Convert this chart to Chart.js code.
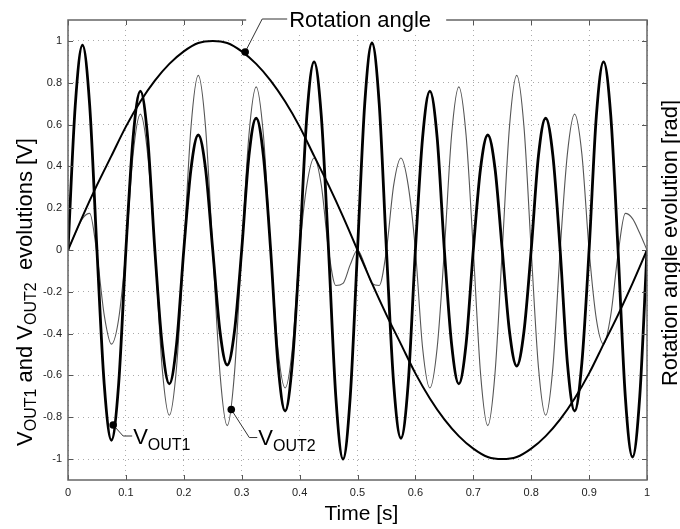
<!DOCTYPE html>
<html>
<head>
<meta charset="utf-8">
<script src="https://cdn.jsdelivr.net/npm/chart.js@4.4.0/dist/chart.umd.min.js"></script>
<style>
  html, body { margin: 0; padding: 0; background: #fff; }
  #wrap { width: 680px; height: 529px; }
</style>
</head>
<body>
<div id="wrap"><canvas id="c" width="680" height="529"></canvas></div>
<script>
const FONT = '"Liberation Sans", Arial, Helvetica, sans-serif';

// sample grid of the two output voltages (s)
const timeV = Array.from({length: 81}, (_, i) => +(i * 0.0125).toFixed(4));

// V_OUT1 (thick curve)
const vout1 = [
  0, 0.69, 0.98, 0.69, 0, -0.64, -0.91, -0.64,
  0, 0.54, 0.76, 0.54, 0, -0.45, -0.64, -0.45,
  0, 0.39, 0.55, 0.39, 0, -0.39, -0.55, -0.39,
  0, 0.45, 0.63, 0.45, 0, -0.54, -0.77, -0.54,
  0, 0.64, 0.90, 0.64, 0, -0.70, -1.00, -0.70,
  0, 0.70, 0.99, 0.70, 0, -0.64, -0.90, -0.64,
  0, 0.54, 0.76, 0.54, 0, -0.45, -0.64, -0.45,
  0, 0.39, 0.55, 0.39, 0, -0.39, -0.555, -0.39,
  0, 0.45, 0.63, 0.45, 0, -0.54, -0.77, -0.54,
  0, 0.64, 0.90, 0.64, 0, -0.70, -0.99, -0.70,
  0
];

// V_OUT2 (thin curve)
const vout2 = [
  0, 0.08, 0.15, 0.175, -0.02, -0.31, -0.45, -0.33,
  0, 0.46, 0.65, 0.46, 0, -0.56, -0.79, -0.56,
  0, 0.59, 0.835, 0.59, 0, -0.59, -0.84, -0.59,
  0, 0.55, 0.78, 0.55, 0, -0.47, -0.66, -0.47,
  0, 0.31, 0.44, 0.31, 0, -0.17, -0.16, -0.07,
  0, -0.07, -0.16, -0.17, 0, 0.31, 0.44, 0.31,
  0, -0.47, -0.66, -0.47, 0, 0.55, 0.78, 0.55,
  0, -0.59, -0.84, -0.59, 0, 0.59, 0.835, 0.59,
  0, -0.56, -0.79, -0.56, 0, 0.46, 0.65, 0.46,
  0, -0.33, -0.45, -0.31, -0.02, 0.175, 0.15, 0.08,
  0
];

// rotation angle [rad]
const timeAngle = Array.from({length: 41}, (_, i) => +(i * 0.025).toFixed(3));
const angle = [
  0, 0.16, 0.31, 0.45, 0.59, 0.71, 0.81, 0.89, 0.95, 0.99,
  1.0, 0.99, 0.95, 0.89, 0.81, 0.71, 0.59, 0.45, 0.31, 0.16,
  0, -0.16, -0.31, -0.45, -0.59, -0.71, -0.81, -0.89, -0.95, -0.99,
  -1.0, -0.99, -0.95, -0.89, -0.81, -0.71, -0.59, -0.45, -0.31, -0.16,
  0
];

const xTicks = [0, 0.1, 0.2, 0.3, 0.4, 0.5, 0.6, 0.7, 0.8, 0.9, 1];
const xTickLabels = ['0', '0.1', '0.2', '0.3', '0.4', '0.5', '0.6', '0.7', '0.8', '0.9', '1'];
const yTicks = [-1, -0.8, -0.6, -0.4, -0.2, 0, 0.2, 0.4, 0.6, 0.8, 1];
const yTickLabels = ['-1', '-0.8', '-0.6', '-0.4', '-0.2', '0', '0.2', '0.4', '0.6', '0.8', '1'];

// points on the curves where the callouts sit
const calloutAngle = [0.306, 0.947];
const calloutV1 = [0.078, -0.837];
const calloutV2 = [0.282, -0.763];

const pts = (xs, ys) => xs.map((t, i) => ({x: t, y: ys[i]}));

function line(ctx, x1, y1, x2, y2) {
  ctx.beginPath(); ctx.moveTo(x1, y1); ctx.lineTo(x2, y2); ctx.stroke();
}

function dot(ctx, x, y) {
  ctx.beginPath(); ctx.arc(x, y, 3.8, 0, Math.PI * 2); ctx.fill();
}

// text with a subscript; parts = [[text, isSub], ...], drawn from x along baseline y
function richText(ctx, parts, x, y, big, small, subDrop) {
  let cx = x;
  parts.forEach(([t, sub]) => {
    ctx.font = (sub ? small : big) + 'px ' + FONT;
    ctx.fillText(t, cx, sub ? y + subDrop : y);
    cx += ctx.measureText(t).width;
  });
  return cx - x;
}
function richWidth(ctx, parts, big, small) {
  let w = 0;
  parts.forEach(([t, sub]) => {
    ctx.font = (sub ? small : big) + 'px ' + FONT;
    w += ctx.measureText(t).width;
  });
  return w;
}

const decor = {
  id: 'decor',
  afterDraw(chart) {
    const {ctx, chartArea: a, scales: {x, y}} = chart;
    ctx.save();

    // inward tick marks on all four sides
    ctx.strokeStyle = '#555';
    ctx.lineWidth = 1;
    xTicks.forEach(v => {
      const px = Math.round(x.getPixelForValue(v)) + 0.5;
      line(ctx, px, a.bottom, px, a.bottom - 5);
      line(ctx, px, a.top, px, a.top + 5);
    });
    yTicks.forEach(v => {
      const py = Math.round(y.getPixelForValue(v)) + 0.5;
      line(ctx, a.left, py, a.left + 5, py);
      line(ctx, a.right, py, a.right - 5, py);
    });

    // frame
    ctx.strokeStyle = '#666';
    ctx.lineWidth = 1.5;
    ctx.strokeRect(a.left, a.top, a.right - a.left, a.bottom - a.top);

    ctx.fillStyle = '#000';
    ctx.strokeStyle = '#000';
    ctx.textBaseline = 'alphabetic';
    ctx.textAlign = 'left';

    // "Rotation angle" callout (text box hides the top frame)
    const ax = x.getPixelForValue(calloutAngle[0]);
    const ay = y.getPixelForValue(calloutAngle[1]);
    ctx.fillStyle = '#fff';
    ctx.fillRect(ax + 1, a.top - 12, 200, 23);
    ctx.fillStyle = '#000';
    ctx.lineWidth = 1;
    ctx.strokeStyle = '#333';
    ctx.beginPath();
    ctx.moveTo(ax, ay); ctx.lineTo(ax + 17, a.top - 1); ctx.lineTo(ax + 42, a.top - 1);
    ctx.stroke();
    dot(ctx, ax, ay);
    ctx.font = '22px ' + FONT;
    ctx.fillText('Rotation angle', ax + 44, a.top + 7);

    // V_OUT1 callout
    const v1x = x.getPixelForValue(calloutV1[0]);
    const v1y = y.getPixelForValue(calloutV1[1]);
    ctx.beginPath();
    ctx.moveTo(v1x, v1y); ctx.lineTo(v1x + 10, v1y + 11); ctx.lineTo(v1x + 19, v1y + 11);
    ctx.stroke();
    dot(ctx, v1x, v1y);
    richText(ctx, [['V', false], ['OUT1', true]], v1x + 20, v1y + 19, 22, 16, 6);

    // V_OUT2 callout
    const v2x = x.getPixelForValue(calloutV2[0]);
    const v2y = y.getPixelForValue(calloutV2[1]);
    ctx.beginPath();
    ctx.moveTo(v2x, v2y); ctx.lineTo(v2x + 18, v2y + 28); ctx.lineTo(v2x + 26, v2y + 28);
    ctx.stroke();
    dot(ctx, v2x, v2y);
    richText(ctx, [['V', false], ['OUT2', true]], v2x + 27, v2y + 35, 22, 16, 6);

    // x axis title
    ctx.font = '21px ' + FONT;
    ctx.textAlign = 'center';
    ctx.fillText('Time [s]', (a.left + a.right) / 2 + 4, 520);
    ctx.textAlign = 'left';

    // left axis title, rotated
    const leftParts = [['V', false], ['OUT1', true], [' and ', false], ['V', false], ['OUT2', true], ['  evolutions [V]', false]];
    const lw = richWidth(ctx, leftParts, 22, 16);
    ctx.save();
    ctx.translate(32, 292);
    ctx.rotate(-Math.PI / 2);
    richText(ctx, leftParts, -lw / 2, 0, 22, 16, 4);
    ctx.restore();

    // right axis title, rotated
    ctx.save();
    ctx.translate(677, 243);
    ctx.rotate(-Math.PI / 2);
    ctx.font = '22px ' + FONT;
    ctx.textAlign = 'center';
    ctx.fillText('Rotation angle evolution [rad]', 0, 0);
    ctx.restore();

    ctx.restore();
  }
};

new Chart(document.getElementById('c'), {
  type: 'line',
  data: {
    datasets: [
      { label: 'VOUT1', data: pts(timeV, vout1), borderColor: '#000', borderWidth: 2.8 },
      { label: 'Rotation angle', data: pts(timeAngle, angle), borderColor: '#000', borderWidth: 2 },
      { label: 'VOUT2', data: pts(timeV, vout2), borderColor: '#555', borderWidth: 1.1 }
    ]
  },
  options: {
    responsive: false,
    animation: false,
    events: [],
    layout: { padding: { top: 20, right: 33, left: 0, bottom: 0 } },
    elements: {
      point: { radius: 0 },
      line: { cubicInterpolationMode: 'monotone', fill: false }
    },
    plugins: { legend: { display: false }, tooltip: { enabled: false } },
    scales: {
      x: {
        type: 'linear', min: 0, max: 1,
        afterBuildTicks: s => { s.ticks = xTicks.map(v => ({value: v})); },
        afterFit: s => { s.height = 49; },
        grid: { color: '#aaa', lineWidth: 1, drawTicks: false },
        border: { display: false, dash: [1, 4] },
        ticks: {
          autoSkip: false, maxRotation: 0, padding: 6, color: '#222',
          font: { family: FONT, size: 11 },
          callback: (v, i) => xTickLabels[i]
        }
      },
      y: {
        type: 'linear', min: -1.1, max: 1.1,
        afterBuildTicks: s => { s.ticks = yTicks.map(v => ({value: v})); },
        afterFit: s => { s.width = 68; },
        grid: { color: '#aaa', lineWidth: 1, drawTicks: false },
        border: { display: false, dash: [1, 4] },
        ticks: {
          autoSkip: false, padding: 6, color: '#222',
          font: { family: FONT, size: 11 },
          callback: (v, i) => yTickLabels[i]
        }
      }
    }
  },
  plugins: [decor]
});
</script>
</body>
</html>
